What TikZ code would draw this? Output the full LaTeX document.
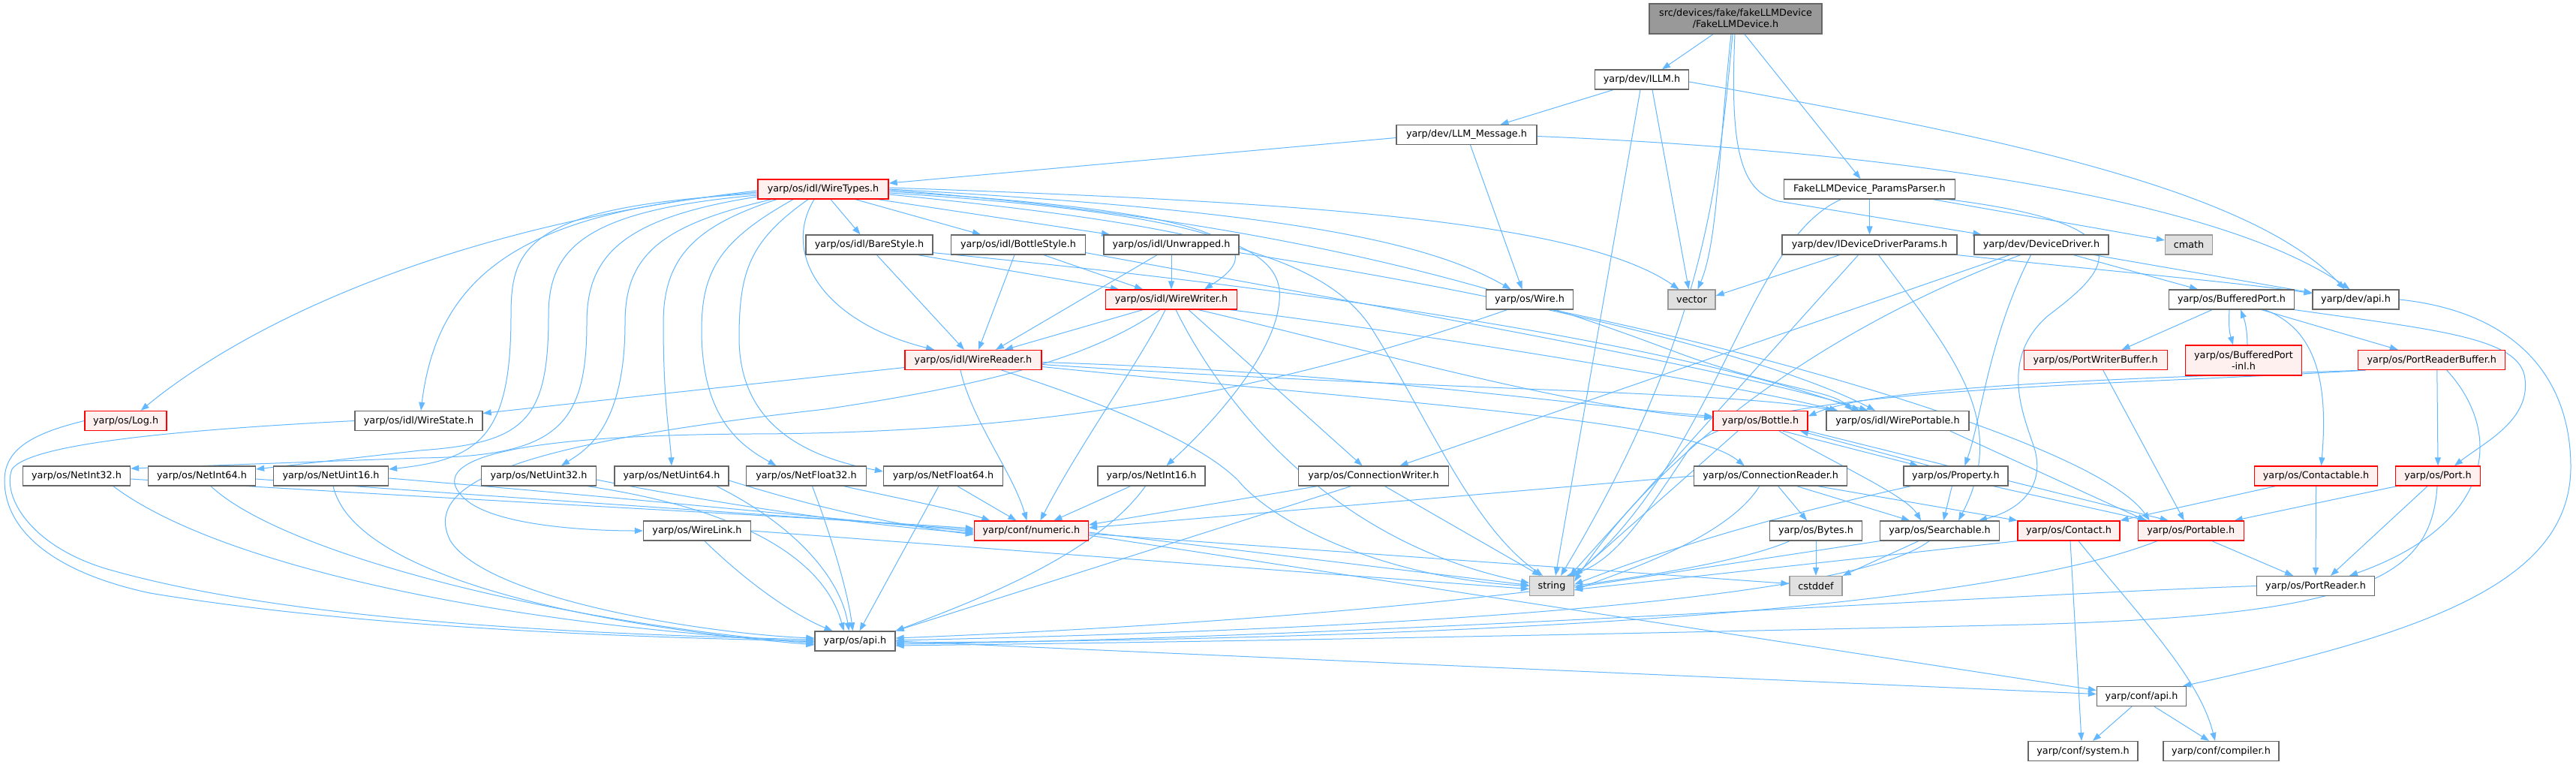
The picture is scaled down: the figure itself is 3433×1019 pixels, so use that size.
\documentclass[tikz,border=0pt]{standalone}
\usepackage{fontspec}
\setmainfont{DejaVu Sans}
\usetikzlibrary{arrows.meta,backgrounds}
\definecolor{edgec}{HTML}{63B8FF}
\definecolor{nodeborder}{HTML}{666666}
\definecolor{redborder}{HTML}{FF0000}
\definecolor{redfill}{HTML}{FFF0F0}
\definecolor{sysfill}{HTML}{E0E0E0}
\definecolor{sysborder}{HTML}{999999}
\definecolor{rootfill}{HTML}{999999}
\tikzset{
  nd/.style={draw=nodeborder, fill=white, line width=1.3pt, inner sep=0pt, minimum height=26pt, text=black},
  rd/.style={nd, draw=redborder, fill=redfill},
  sy/.style={nd, draw=sysborder, fill=sysfill},
  rt/.style={nd, fill=rootfill, align=center, minimum height=40pt},
  e/.style={draw=edgec, line width=1pt, -{Triangle[length=11pt,width=8pt]}}
}
\begin{document}
\begin{tikzpicture}[x=1pt,y=-1pt,font=\fontsize{12.8}{15}\selectfont]
\useasboundingbox (0,0) rectangle (3433,1019);
% nodes
\node[rt, minimum width=230pt] (root) at (2313,25) {src/devices/fake/fakeLLMDevice\\/FakeLLMDevice.h};
\node[nd, minimum width=125pt] (illm) at (2188,106) {yarp/dev/ILLM.h};
\node[nd, minimum width=187pt] (llm) at (1954.5,179.5) {yarp/dev/LLM\_Message.h};
\node[rd, minimum width=174pt] (wt) at (1097,252) {yarp/os/idl/WireTypes.h};
\node[nd, minimum width=228pt] (pp) at (2491.5,252) {FakeLLMDevice\_ParamsParser.h};
\node[nd, minimum width=169pt] (bare) at (1158.5,326) {yarp/os/idl/BareStyle.h};
\node[nd, minimum width=179pt] (bottlest) at (1357,326) {yarp/os/idl/BottleStyle.h};
\node[nd, minimum width=180pt] (unwr) at (1561,326) {yarp/os/idl/Unwrapped.h};
\node[nd, minimum width=233pt] (iddp) at (2491.5,326) {yarp/dev/IDeviceDriverParams.h};
\node[nd, minimum width=179pt] (dd) at (2720.5,326) {yarp/dev/DeviceDriver.h};
\node[sy, minimum width=63pt] (cmath) at (2917,326) {cmath};
\node[rd, minimum width=175pt] (ww) at (1561,399) {yarp/os/idl/WireWriter.h};
\node[nd, minimum width=116pt] (wire) at (2038.5,399) {yarp/os/Wire.h};
\node[sy, minimum width=63pt] (vector) at (2254.5,399) {vector};
\node[nd, minimum width=167pt] (bp) at (2974,399) {yarp/os/BufferedPort.h};
\node[nd, minimum width=115pt] (devapi) at (3139.5,399) {yarp/dev/api.h};
\node[rd, minimum width=182pt] (wr) at (1297,479.5) {yarp/os/idl/WireReader.h};
\node[rd, minimum width=191pt] (pwb) at (2792.7,479.5) {yarp/os/PortWriterBuffer.h};
\node[rd, minimum width=155pt, minimum height=40pt, align=center] (bpinl) at (2990,480) {yarp/os/BufferedPort\\-inl.h};
\node[rd, minimum width=196pt] (prb) at (3240.8,479.5) {yarp/os/PortReaderBuffer.h};
\node[rd, minimum width=109pt] (log) at (167.6,560.5) {yarp/os/Log.h};
\node[nd, minimum width=170pt] (wstate) at (558,560.5) {yarp/os/idl/WireState.h};
\node[rd, minimum width=126pt] (bottle) at (2346,560.5) {yarp/os/Bottle.h};
\node[nd, minimum width=190pt] (wport) at (2529,560.5) {yarp/os/idl/WirePortable.h};
\node[nd, minimum width=143pt] (ni32) at (102,634) {yarp/os/NetInt32.h};
\node[nd, minimum width=143pt] (ni64) at (269,634) {yarp/os/NetInt64.h};
\node[nd, minimum width=153pt] (nu16) at (441,634) {yarp/os/NetUint16.h};
\node[nd, minimum width=153pt] (nu32) at (718,634) {yarp/os/NetUint32.h};
\node[nd, minimum width=152pt] (nu64) at (895,634) {yarp/os/NetUint64.h};
\node[nd, minimum width=160pt] (nf32) at (1074.5,634) {yarp/os/NetFloat32.h};
\node[nd, minimum width=159pt] (nf64) at (1257,634) {yarp/os/NetFloat64.h};
\node[nd, minimum width=143pt] (ni16) at (1534.5,634) {yarp/os/NetInt16.h};
\node[nd, minimum width=200pt] (cw) at (1830.5,634) {yarp/os/ConnectionWriter.h};
\node[nd, minimum width=204pt] (cr) at (2359.7,634) {yarp/os/ConnectionReader.h};
\node[nd, minimum width=139pt] (prop) at (2606.4,634) {yarp/os/Property.h};
\node[rd, minimum width=164pt] (ctbl) at (3086.5,634) {yarp/os/Contactable.h};
\node[rd, minimum width=113pt] (port) at (3249,634) {yarp/os/Port.h};
\node[nd, minimum width=143pt] (wlink) at (929,707) {yarp/os/WireLink.h};
\node[rd, minimum width=152pt] (numeric) at (1374.4,707) {yarp/conf/numeric.h};
\node[nd, minimum width=123pt] (bytes) at (2420,707) {yarp/os/Bytes.h};
\node[nd, minimum width=159pt] (search) at (2585,707) {yarp/os/Searchable.h};
\node[rd, minimum width=136pt] (contact) at (2757,707) {yarp/os/Contact.h};
\node[rd, minimum width=141pt] (portable) at (2919.7,707) {yarp/os/Portable.h};
\node[sy, minimum width=59pt] (string) at (2068,780.5) {string};
\node[sy, minimum width=70pt] (cstddef) at (2420,780.5) {cstddef};
\node[nd, minimum width=157pt] (portreader) at (3086,780.5) {yarp/os/PortReader.h};
\node[nd, minimum width=107pt] (osapi) at (1139.5,854) {yarp/os/api.h};
\node[nd, minimum width=119pt] (confapi) at (2854,927.5) {yarp/conf/api.h};
\node[nd, minimum width=146pt] (system) at (2776,1000.5) {yarp/conf/system.h};
\node[nd, minimum width=154pt] (compiler) at (2960,1000.5) {yarp/conf/compiler.h};

\begin{scope}[on background layer]
\fill[white] (0,0) rectangle (3433,1019);
% root
\draw[e] ([xshift=-30pt]root.south) -- ([xshift=27pt]illm.north);
\draw[e] ([xshift=-6pt]root.south) .. controls (2290,200) and (2290,320) .. ([xshift=8pt]vector.north);
\draw[e] ([xshift=-4pt]root.south) .. controls (2290,250) and (2270,450) .. ([xshift=12pt]string.north);
\draw[e] ([xshift=12pt]root.south) -- ([xshift=-12pt]pp.north);
\draw[e] ([xshift=-1pt]root.south) .. controls (2305,200) and (2320,255) .. (2370,268) -- ([xshift=-80pt]dd.north);
% illm
\draw[e] ([xshift=-38pt]illm.south) -- ([xshift=45pt]llm.north);
\draw[e] ([xshift=14pt]illm.south) -- ([xshift=-4pt]vector.north);
\draw[e] ([xshift=-2pt]illm.south) -- ([xshift=5pt]string.north);
\draw[e] ([yshift=-3pt]illm.east) .. controls (2650,180) and (3000,250) .. ([xshift=-15pt]devapi.north);
% llm
\draw[e] ([yshift=-4pt]llm.west) -- ([yshift=8pt]wt.east);
\draw[e] ([xshift=5pt]llm.south) -- ([xshift=-10pt]wire.north);
\draw[e] ([yshift=-2pt]llm.east) .. controls (2500,200) and (2950,260) .. ([xshift=-8pt]devapi.north);
% pp
\draw[e] (pp.south) -- (iddp.north);
\draw[e] ([xshift=-38pt]pp.south) .. controls (2330,320) and (2290,600) .. (string.north east);
\draw[e] ([xshift=-30pt]pp.south east) -- ([yshift=6pt]cmath.west);
\draw[e] ([xshift=-10pt]pp.south east) .. controls (2870,300) and (2810,360) .. (2730,420) .. controls (2660,480) and (2700,560) .. (2712,600) .. controls (2725,650) and (2690,680) .. ([xshift=52pt]search.north);
% iddp
\draw[e] ([xshift=-40pt]iddp.south) -- ([yshift=5pt]vector.east);
\draw[e] ([xshift=-15pt]iddp.south) -- ([xshift=-6pt]string.north east);
\draw[e] ([xshift=12pt]iddp.south) .. controls (2600,470) and (2680,560) .. ([xshift=25pt]search.north);
\draw[e] (iddp.south east) .. controls (2800,360) and (3000,378) .. ([yshift=8pt]devapi.west);
% dd
\draw[e] ([xshift=-42pt]dd.south) -- ([xshift=35pt]cw.north);
\draw[e] ([xshift=-28pt]dd.south) .. controls (2400,450) and (2200,620) .. ([yshift=6pt]string.east);
\draw[e] ([xshift=-14pt]dd.south) .. controls (2650,450) and (2640,560) .. ([xshift=12pt]prop.north);
\draw[e] ([xshift=43pt]dd.south) -- ([xshift=-45pt]bp.north);
\draw[e] ([xshift=-20pt]dd.south east) -- ([yshift=9pt]devapi.west);
% wt
\draw[e] ([xshift=10pt]wt.south) -- ([xshift=-12pt]bare.north);
\draw[e] ([xshift=43pt]wt.south) -- ([xshift=-50pt]bottlest.north);
\draw[e] ([xshift=73pt]wt.south) -- ([xshift=-82pt]unwr.north);
\draw[e] ([yshift=-3pt]wt.east) .. controls (1600,280) and (1710,320) .. ([xshift=44pt]ww.north);
\draw[e] ([xshift=-12pt]wt.south) .. controls (1040,340) and (1100,430) .. ([xshift=-52pt]wr.north);
\draw[e] ([yshift=-2pt]wt.west) .. controls (600,300) and (330,430) .. ([xshift=20pt]log.north);
\draw[e] ([yshift=-4pt]wt.west) .. controls (720,280) and (585,350) .. ([xshift=3pt]wstate.north);
\draw[e] ([yshift=-6pt]wt.west) .. controls (700,275) and (681,330) .. (681,420) .. controls (681,580) and (640,612) .. ([yshift=9pt]nu16.east);
\draw[e] ([yshift=-8pt]wt.west) .. controls (780,280) and (731,330) .. (731,420) .. controls (731,560) and (700,590) .. (560,600) -- ([yshift=9pt]ni64.east);
\draw[e] ([yshift=-10pt]wt.west) .. controls (830,290) and (782,340) .. (782,430) .. controls (782,570) and (740,608) .. (560,610) -- ([yshift=10pt]ni32.east);
\draw[e] ([xshift=-69pt]wt.south) .. controls (880,300) and (833,340) .. (833,430) .. controls (833,570) and (780,600) .. ([xshift=30pt]nu32.north);
\draw[e] ([xshift=-62pt]wt.south) .. controls (930,300) and (884,340) .. (884,430) .. controls (884,540) and (893,580) .. (nu64.north);
\draw[e] ([xshift=-40pt]wt.south) .. controls (960,320) and (935,360) .. (935,440) .. controls (935,560) and (990,595) .. ([xshift=-40pt]nf32.north);
\draw[e] ([xshift=-20pt]wt.south) .. controls (1000,320) and (985,360) .. (985,450) .. controls (985,570) and (1080,610) .. ([yshift=6pt]nf64.west);
\draw[e] ([yshift=-5pt]wt.east) .. controls (1620,285) and (1712,330) .. (1705,400) .. controls (1700,470) and (1620,560) .. ([xshift=20pt]ni16.north);
\draw[e] ([yshift=2pt]wt.east) .. controls (1700,268) and (2100,290) .. ([xshift=-17pt]vector.north);
\draw[e] (wt.east) .. controls (1700,280) and (1900,320) .. ([xshift=-25pt]wire.north);
\draw[e] ([yshift=-1pt]wt.east) .. controls (1800,300) and (2100,420) .. (2250,475) .. controls (2380,520) and (2440,520) .. ([xshift=-60pt]wport.north);
\draw[e] ([yshift=-7pt]wt.east) .. controls (1600,300) and (1760,340) .. (1825,433) .. controls (1900,550) and (1960,700) .. ([xshift=-12pt]string.north);
% bare / bottlestyle / unwrapped
\draw[e] ([xshift=10pt]bare.south) -- ([xshift=-12pt]wr.north);
\draw[e] ([xshift=65pt]bare.south) -- ([xshift=-70pt]ww.north);
\draw[e] ([yshift=3pt]bare.south east) .. controls (1900,400) and (2300,480) .. ([xshift=-50pt]wport.north);
\draw[e] ([xshift=-5pt]bottlest.south) -- ([xshift=7pt]wr.north);
\draw[e] ([xshift=34pt]bottlest.south) -- ([xshift=-38pt]ww.north);
\draw[e] ([yshift=3pt]bottlest.south east) .. controls (1900,420) and (2300,490) .. ([xshift=-40pt]wport.north);
\draw[e] ([xshift=-19pt]unwr.south) -- ([xshift=30pt]wr.north);
\draw[e] (unwr.south) -- (ww.north);
\draw[e] ([yshift=3pt]unwr.south east) .. controls (2000,390) and (2350,470) .. ([xshift=-30pt]wport.north);
% ww
\draw[e] ([xshift=-38pt]ww.south) -- ([xshift=42pt]wr.north);
\draw[e] ([xshift=-15pt]ww.south) .. controls (1450,480) and (1300,515) .. (1100,545) .. controls (700,590) and (560,640) .. (600,720) .. controls (650,800) and (950,845) .. ([yshift=4pt]osapi.west);
\draw[e] ([xshift=-8pt]ww.south) .. controls (1520,480) and (1440,590) .. ([xshift=12pt]numeric.north);
\draw[e] ([xshift=6pt]ww.south) .. controls (1620,520) and (1760,720) .. ([yshift=4pt]string.west);
\draw[e] ([xshift=23pt]ww.south) -- ([xshift=-15pt]cw.north);
\draw[e] ([xshift=36pt]ww.south) .. controls (1800,460) and (2100,545) .. ([yshift=4pt]bottle.west);
\draw[e] ([xshift=-10pt]ww.south east) .. controls (1900,445) and (2300,510) .. ([xshift=-80pt]wport.north);
% wr
\draw[e] ([yshift=-10pt]wr.west) -- ([yshift=10pt]wstate.east);
\draw[e] ([xshift=-17pt]wr.south) .. controls (1295,560) and (1350,630) .. ([xshift=-6pt]numeric.north);
\draw[e] ([xshift=38pt]wr.south) .. controls (1480,540) and (1600,590) .. (1650,640) .. controls (1700,700) and (1850,770) .. (string.west);
\draw[e] ([yshift=-3pt]wr.east) .. controls (1800,495) and (2100,540) .. ([yshift=6pt]bottle.west);
\draw[e] ([yshift=-6pt]wr.east) .. controls (1900,520) and (2300,520) .. ([xshift=-85pt]wport.north);
\draw[e] ([yshift=-9pt]wr.east) .. controls (1900,540) and (2250,560) .. ([xshift=-35pt]cr.north);
% wire
\draw[e] ([xshift=-30pt]wire.south) .. controls (1700,520) and (1400,577) .. (1000,578) .. controls (640,580) and (570,620) .. (620,665) .. controls (660,700) and (780,707) .. (wlink.west);
\draw[e] ([xshift=30pt]wire.south) .. controls (2400,480) and (2800,600) .. ([xshift=-55pt]portable.north);
% wirestate, log
\draw[e] (wstate.west) .. controls (250,572) and (40,590) .. (16,625) .. controls (2,660) and (40,730) .. (150,760) .. controls (400,830) and (800,845) .. ([yshift=2pt]osapi.west);
\draw[e] (log.west) .. controls (40,578) and (6,600) .. (6,640) .. controls (6,700) and (60,760) .. (200,790) .. controls (500,840) and (900,850) .. (osapi.west);
% net types
\draw[e] ([yshift=-4pt]ni32.east) .. controls (600,665) and (1100,690) .. ([yshift=3pt]numeric.west);
\draw[e] ([xshift=49pt]ni32.south) .. controls (300,760) and (700,835) .. ([yshift=-1pt]osapi.west);
\draw[e] ([yshift=-4pt]ni64.east) .. controls (700,665) and (1100,690) .. ([yshift=1pt]numeric.west);
\draw[e] ([xshift=12pt]ni64.south) .. controls (380,740) and (750,830) .. ([yshift=-3pt]osapi.west);
\draw[e] ([yshift=-3pt]nu16.east) .. controls (800,660) and (1100,690) .. ([yshift=-1pt]numeric.west);
\draw[e] ([xshift=3pt]nu16.south) .. controls (470,760) and (750,830) .. ([yshift=-5pt]osapi.west);
\draw[e] ([yshift=-5pt]nu32.east) .. controls (950,670) and (1150,700) .. ([yshift=-3pt]numeric.west);
\draw[e] ([xshift=65pt]nu32.south) .. controls (1000,680) and (1100,750) .. ([xshift=-15pt]osapi.north);
\draw[e] ([yshift=-6pt]nu64.east) .. controls (1100,680) and (1200,700) .. ([yshift=-5pt]numeric.west);
\draw[e] ([xshift=60pt]nu64.south) .. controls (1060,700) and (1120,770) .. ([xshift=-8pt]osapi.north);
\draw[e] ([xshift=50pt]nf32.south) .. controls (1180,660) and (1280,680) .. ([xshift=-55pt]numeric.north);
\draw[e] ([xshift=8pt]nf32.south) .. controls (1110,720) and (1130,790) .. ([xshift=-3pt]osapi.north);
\draw[e] ([xshift=19pt]nf64.south) -- ([xshift=-20pt]numeric.north);
\draw[e] ([xshift=-6pt]nf64.south) -- ([xshift=6pt]osapi.north);
\draw[e] ([xshift=-28pt]ni16.south) -- ([xshift=30pt]numeric.north);
\draw[e] ([xshift=-8pt]ni16.south) .. controls (1460,740) and (1300,800) .. (osapi.north east);
% wirelink
\draw[e] ([xshift=10pt]wlink.south) .. controls (1000,780) and (1060,820) .. ([xshift=-30pt]osapi.north);
\draw[e] (wlink.east) -- ([yshift=-4pt]string.west);
% numeric, api
\draw[e] ([yshift=-6pt]numeric.east) -- ([yshift=8pt]confapi.west);
\draw[e] ([yshift=-4pt]numeric.east) -- ([yshift=3pt]cstddef.west);
\draw[e] ([yshift=-2pt]numeric.east) -- ([yshift=1pt]string.west);
\draw[e] (osapi.east) -- ([yshift=3pt]confapi.west);
\draw[e] ([xshift=-13pt]confapi.south) -- ([xshift=13pt]system.north);
\draw[e] ([xshift=17pt]confapi.south) -- ([xshift=-16pt]compiler.north);
\draw[e] (devapi.east) .. controls (3350,415) and (3425,500) .. (3426,620) .. controls (3427,770) and (3250,840) .. ([xshift=55pt]confapi.north);
% bottle, wireportable
\draw[e] ([xshift=30pt]bottle.south) -- ([xshift=-50pt]prop.north);
\draw[e] ([xshift=-35pt]prop.north) -- ([xshift=53pt]bottle.south);
\draw[e] ([xshift=25pt]bottle.south) .. controls (2450,620) and (2540,660) .. ([xshift=-25pt]search.north);
\draw[e] (bottle.south east) -- ([xshift=-30pt]portable.north);
\draw[e] ([xshift=-30pt]bottle.south) -- (string.north east);
\draw[e] ([xshift=70pt]wport.south) -- ([xshift=-60pt]portable.north);
% connection writer / reader
\draw[e] ([xshift=-75pt]cw.south) -- ([yshift=8pt]numeric.east);
\draw[e] ([xshift=-30pt]cw.south) -- (osapi.north east);
\draw[e] ([xshift=15pt]cw.south) -- ([xshift=-15pt]string.north);
\draw[e] (cr.west) -- ([yshift=4pt]numeric.east);
\draw[e] ([xshift=-15pt]cr.south) .. controls (2300,720) and (2150,765) .. ([yshift=-6pt]string.east);
\draw[e] ([xshift=10pt]cr.south) -- ([xshift=-12pt]bytes.north);
\draw[e] ([xshift=35pt]cr.south) -- ([xshift=-40pt]search.north);
\draw[e] ([xshift=63pt]cr.south) -- (contact.north west);
% property
\draw[e] ([xshift=-5pt]prop.south) -- ([xshift=5pt]search.north);
\draw[e] ([xshift=-60pt]prop.south) .. controls (2400,680) and (2250,720) .. ([yshift=2pt]string.east);
\draw[e] ([xshift=50pt]prop.south) -- ([xshift=-58pt]portable.north);
% bytes, searchable, contact
\draw[e] (bytes.south) -- (cstddef.north);
\draw[e] ([xshift=-35pt]bytes.south) .. controls (2250,780) and (1700,830) .. ([yshift=4pt]osapi.east);
\draw[e] ([xshift=-28pt]search.south) -- (cstddef.north east);
\draw[e] ([xshift=-14pt]search.south) .. controls (2480,790) and (2000,835) .. ([yshift=1pt]osapi.east);
\draw[e] (search.south west) -- ([yshift=-2pt]string.east);
\draw[e] ([xshift=2pt]contact.south) -- ([xshift=-2pt]system.north);
\draw[e] ([xshift=13pt]contact.south) .. controls (2850,820) and (2930,900) .. ([xshift=-8pt]compiler.north);
\draw[e] (contact.south west) -- ([yshift=-5pt]string.east);
% portable, portreader
\draw[e] ([xshift=28pt]portable.south) -- ([xshift=-30pt]portreader.north);
\draw[e] ([xshift=-45pt]portable.south) .. controls (2700,790) and (2200,850) .. ([yshift=-2pt]osapi.east);
\draw[e] (portreader.west) .. controls (2600,795) and (1800,850) .. ([yshift=-4pt]osapi.east);
% contactable, port
\draw[e] ([xshift=-54pt]ctbl.south) -- (contact.north east);
\draw[e] (ctbl.south) -- (portreader.north);
\draw[e] ([xshift=-55pt]port.south) -- ([xshift=58pt]portable.north);
\draw[e] ([xshift=-14pt]port.south) -- ([xshift=20pt]portreader.north);
\draw[e] ([xshift=-1pt]port.south) .. controls (3240,770) and (3150,820) .. (2700,832) .. controls (2000,848) and (1600,855) .. ([yshift=-6pt]osapi.east);
% buffered port
\draw[e] ([xshift=-26pt]bp.south) -- ([xshift=35pt]pwb.north);
\draw[e] ([xshift=-3pt]bp.south) to[bend right=10] ([xshift=-14pt]bpinl.north);
\draw[e] ([xshift=5pt]bpinl.north) to[bend right=10] ([xshift=12pt]bp.south);
\draw[e] ([xshift=40pt]bp.south) -- ([xshift=-45pt]prb.north);
\draw[e] ([xshift=44pt]bp.south) .. controls (3092,440) and (3102,520) .. ([xshift=7pt]ctbl.north);
\draw[e] (bp.south east) .. controls (3250,440) and (3360,450) .. (3365,505) .. controls (3372,560) and (3310,590) .. ([xshift=22pt]port.north);
\draw[e] ([xshift=10pt]pwb.south) -- ([xshift=-9pt]portable.north);
% port reader buffer
\draw[e] ([xshift=7pt]prb.south) -- (port.north);
\draw[e] ([xshift=20pt]prb.south) .. controls (3340,580) and (3320,700) .. ([xshift=45pt]portreader.north);
\draw[e] ([xshift=-88pt]prb.south) .. controls (2800,515) and (2320,515) .. (2250,600) .. controls (2190,690) and (2150,750) .. ([xshift=20pt]string.north);
\draw[e] ([xshift=-90pt]prb.south) .. controls (2800,505) and (2500,515) .. ([yshift=6pt]bottle.east);
\end{scope}
\end{tikzpicture}
\end{document}
